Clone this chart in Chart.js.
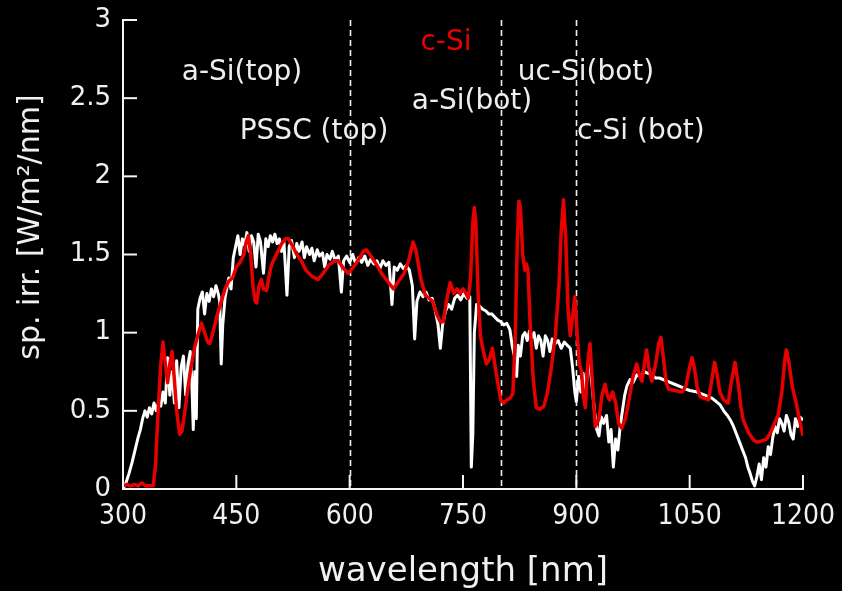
<!DOCTYPE html>
<html>
<head>
<meta charset="utf-8">
<script src="https://cdn.jsdelivr.net/npm/chart.js@4.4.1/dist/chart.umd.min.js"></script>
<style>
  html, body { margin: 0; padding: 0; background: #000; }
  #wrap { width: 842px; height: 591px; position: relative; }
</style>
</head>
<body>
<div id="wrap"><canvas id="c" width="842" height="591"></canvas></div>
<script>
// ---- data ----
const whiteNm = [300,304,308,312,316,320,323,326,329,332,335,338,341,344,347,350,353,356,359,362,365,368,371,374,377,380,383,386,389,391,393,395,397,399,402,405,408,411,414,417,420,423,426,428,430,432,435,438,440,443,446,449,452,455,458,461,464,467,470,473,476,479,482,486,489,492,495,498,501,504,507,510,513,517,520,523,527,530,533,537,540,543,547,550,553,557,560,564,567,570,574,577,581,585,589,592,596,600,604,608,612,616,620,624,628,632,636,640,644,648,652,656,659,663,667,671,675,679,683,686,689,693,697,701,705,709,713,717,720,723,727,731,735,739,743,747,751,755,759,761,763,765,768,772,776,780,784,788,792,796,800,804,808,812,815,818,821,823,826,829,832,835,838,841,844,847,850,853,856,859,862,865,868,872,876,880,884,888,892,895,898,900,903,906,909,912,915,918,921,924,927,930,933,936,940,943,946,949,952,955,958,961,964,967,971,975,980,985,990,995,1000,1005,1010,1020,1030,1040,1050,1060,1070,1080,1090,1095,1100,1104,1108,1112,1116,1120,1124,1127,1130,1133,1136,1139,1142,1145,1148,1151,1154,1157,1160,1163,1166,1169,1172,1175,1178,1181,1184,1187,1190,1193,1196,1200];
const whiteVal = [0.00,0.04,0.10,0.17,0.25,0.33,0.38,0.45,0.50,0.46,0.52,0.48,0.55,0.50,0.55,0.53,0.62,0.55,0.84,0.60,0.75,0.55,0.82,0.52,0.78,0.85,0.60,0.80,0.88,0.70,0.38,0.75,0.45,1.15,1.22,1.26,1.12,1.25,1.20,1.28,1.23,1.30,1.25,1.20,0.80,1.05,1.22,1.30,1.35,1.28,1.48,1.55,1.62,1.50,1.60,1.56,1.64,1.52,1.62,1.58,1.42,1.63,1.58,1.38,1.60,1.55,1.62,1.58,1.63,1.57,1.60,1.52,1.58,1.24,1.55,1.59,1.48,1.57,1.52,1.58,1.48,1.55,1.50,1.54,1.46,1.53,1.49,1.51,1.42,1.50,1.47,1.52,1.46,1.49,1.26,1.46,1.49,1.45,1.50,1.44,1.48,1.45,1.49,1.43,1.47,1.44,1.46,1.41,1.46,1.43,1.45,1.18,1.42,1.40,1.44,1.41,1.43,1.40,1.30,0.96,1.20,1.26,1.23,1.26,1.21,1.22,1.15,1.05,0.90,1.05,1.14,1.18,1.15,1.22,1.24,1.21,1.25,1.22,1.23,0.14,0.35,1.00,1.18,1.17,1.15,1.14,1.12,1.12,1.10,1.08,1.07,1.05,1.06,1.02,0.92,0.85,0.72,0.92,0.85,0.98,1.00,0.95,1.01,0.97,1.00,0.90,0.98,0.95,0.85,0.98,0.95,0.88,0.96,0.93,0.95,0.90,0.94,0.92,0.90,0.78,0.62,0.56,0.72,0.62,0.74,0.60,0.77,0.80,0.65,0.50,0.38,0.34,0.46,0.42,0.47,0.30,0.38,0.14,0.32,0.25,0.40,0.50,0.60,0.66,0.70,0.68,0.73,0.72,0.75,0.74,0.73,0.71,0.71,0.69,0.67,0.65,0.63,0.62,0.60,0.58,0.54,0.50,0.47,0.44,0.40,0.35,0.30,0.25,0.20,0.14,0.10,0.05,0.02,0.08,0.16,0.06,0.20,0.14,0.27,0.22,0.33,0.40,0.36,0.45,0.42,0.37,0.47,0.43,0.35,0.32,0.45,0.40,0.46,0.44];

const redNm = [300,305,310,315,320,325,330,335,340,343,346,350,353,356,359,362,365,368,371,375,378,382,386,390,395,400,404,408,412,415,420,425,430,435,440,445,450,455,460,463,466,469,472,475,477,480,483,486,490,494,497,500,505,510,515,519,525,530,536,542,550,558,565,572,580,585,592,598,605,612,618,622,628,635,642,650,658,665,672,678,684,688,694,700,705,710,715,720,724,728,733,738,742,746,750,754,757,760,763,765,767,770,773,777,781,785,789,792,796,800,804,808,812,816,819,822,824,826,829,832,834,836,839,843,847,852,857,862,867,872,877,880,883,886,889,892,895,898,901,904,907,909,912,915,918,921,925,930,934,938,941,944,948,952,956,960,965,970,975,980,984,987,990,993,996,1000,1005,1009,1012,1015,1019,1022,1030,1040,1045,1050,1053,1056,1060,1064,1070,1075,1080,1083,1086,1090,1095,1101,1105,1110,1114,1118,1121,1128,1135,1140,1146,1152,1158,1163,1167,1172,1176,1178,1181,1186,1191,1195,1200];
const redVal = [0.02,0.03,0.02,0.03,0.02,0.04,0.02,0.02,0.02,0.15,0.45,0.80,0.94,0.80,0.68,0.80,0.88,0.70,0.50,0.35,0.37,0.50,0.65,0.78,0.91,1.00,1.06,1.00,0.94,0.93,1.02,1.12,1.20,1.28,1.33,1.35,1.42,1.45,1.50,1.58,1.62,1.50,1.30,1.20,1.19,1.30,1.34,1.28,1.27,1.38,1.44,1.47,1.52,1.57,1.60,1.60,1.55,1.50,1.46,1.40,1.36,1.34,1.38,1.43,1.46,1.46,1.41,1.38,1.42,1.47,1.52,1.53,1.49,1.44,1.38,1.33,1.28,1.33,1.38,1.46,1.58,1.52,1.35,1.24,1.22,1.20,1.12,1.07,1.07,1.20,1.32,1.25,1.28,1.25,1.28,1.25,1.22,1.35,1.70,1.80,1.70,1.25,0.98,0.88,0.80,0.83,0.90,0.80,0.68,0.57,0.55,0.57,0.58,0.61,0.95,1.60,1.84,1.80,1.50,1.40,1.44,1.40,1.04,0.70,0.52,0.51,0.53,0.62,0.78,0.97,1.30,1.65,1.85,1.60,1.15,0.98,1.10,1.23,1.00,0.80,0.75,0.60,0.52,0.80,0.93,0.70,0.40,0.45,0.60,0.67,0.60,0.57,0.62,0.55,0.42,0.39,0.45,0.58,0.72,0.80,0.72,0.69,0.80,0.89,0.78,0.69,0.80,0.93,0.97,0.85,0.68,0.64,0.63,0.62,0.66,0.78,0.84,0.78,0.65,0.59,0.58,0.57,0.72,0.81,0.74,0.62,0.57,0.55,0.68,0.81,0.68,0.52,0.44,0.36,0.31,0.30,0.31,0.32,0.37,0.43,0.47,0.62,0.83,0.89,0.82,0.65,0.55,0.45,0.34];

const xTicks = [300, 450, 600, 750, 900, 1050, 1200];
const yTicks = [0, 0.5, 1, 1.5, 2, 2.5, 3];
const dividerNm = [600, 800, 900];
const xTitle = 'wavelength [nm]';
const yTitle = 'sp. irr. [W/m²/nm]';
const labelTexts = ['a-Si(top)', 'PSSC (top)', 'c-Si', 'a-Si(bot)', 'uc-Si(bot)', 'c-Si (bot)'];
const labelNm    = [457.5, 552.8, 727.5, 761.9, 912.8, 985.5];
const labelY     = [2.661, 2.284, 2.853, 2.475, 2.661, 2.284];
const labelColor = ['#eeeeee', '#eeeeee', '#e60000', '#eeeeee', '#eeeeee', '#eeeeee'];

// ---- chart ----
const FONT = "'DejaVu Sans', sans-serif";
const FONT_C = "'DejaVu Sans Condensed', 'DejaVu Sans', sans-serif";
const toPts = (xs, ys) => xs.map((x, i) => ({ x: x, y: ys[i] }));

const decor = {
  id: 'decor',
  beforeDraw(chart) {
    const ctx = chart.ctx;
    ctx.save();
    ctx.fillStyle = '#000';
    ctx.fillRect(0, 0, chart.width, chart.height);
    ctx.restore();
  },
  beforeDatasetsDraw(chart) {
    const { ctx, chartArea, scales } = chart;
    ctx.save();
    ctx.strokeStyle = '#f0f0f0';
    ctx.lineWidth = 1.6;
    ctx.setLineDash([6, 4]);
    dividerNm.forEach(v => {
      const px = Math.round(scales.x.getPixelForValue(v)) + 0.5;
      ctx.beginPath();
      ctx.moveTo(px, chartArea.top);
      ctx.lineTo(px, chartArea.bottom);
      ctx.stroke();
    });
    ctx.restore();
  },
  afterDraw(chart) {
    const { ctx, chartArea, scales } = chart;
    ctx.save();
    ctx.strokeStyle = '#f5f5f5';
    ctx.lineWidth = 2;
    ctx.setLineDash([]);
    const L = 14;
    yTicks.forEach(v => {
      const py = scales.y.getPixelForValue(v);
      ctx.beginPath();
      ctx.moveTo(chartArea.left, py);
      ctx.lineTo(chartArea.left + L, py);
      ctx.stroke();
    });
    xTicks.forEach(v => {
      const px = scales.x.getPixelForValue(v);
      ctx.beginPath();
      ctx.moveTo(px, chartArea.bottom);
      ctx.lineTo(px, chartArea.bottom - L);
      ctx.stroke();
    });
    ctx.font = '28px ' + FONT;
    ctx.textAlign = 'center';
    ctx.textBaseline = 'middle';
    labelTexts.forEach((t, i) => {
      ctx.fillStyle = labelColor[i];
      ctx.fillText(t, scales.x.getPixelForValue(labelNm[i]), scales.y.getPixelForValue(labelY[i]));
    });
    // axis titles
    ctx.fillStyle = '#f0f0f0';
    ctx.font = '34px ' + FONT;
    ctx.fillText(xTitle, (chartArea.left + chartArea.right) / 2, 572);
    ctx.save();
    ctx.translate(31, 227);
    ctx.rotate(-Math.PI / 2);
    ctx.font = '30px ' + FONT;
    ctx.fillText(yTitle, 0, 0);
    ctx.restore();
    ctx.restore();
  }
};

new Chart(document.getElementById('c'), {
  type: 'line',
  data: {
    datasets: [
      {
        label: 'c-Si',
        data: toPts(redNm, redVal),
        borderColor: '#e60000',
        borderWidth: 3.5,
        pointRadius: 0,
        tension: 0,
        borderJoinStyle: 'round',
        order: 0
      },
      {
        label: 'AM1.5',
        data: toPts(whiteNm, whiteVal),
        borderColor: '#ffffff',
        borderWidth: 3,
        pointRadius: 0,
        tension: 0,
        borderJoinStyle: 'round',
        order: 1
      }
    ]
  },
  options: {
    responsive: false,
    animation: false,
    layout: { padding: { left: 0, right: 39, top: 20, bottom: 0 } },
    plugins: { legend: { display: false }, tooltip: { enabled: false } },
    scales: {
      x: {
        type: 'linear',
        min: 300, max: 1200,
        afterBuildTicks: s => { s.ticks = xTicks.map(v => ({ value: v })); },
        afterFit: s => { s.height = 102; s.paddingLeft = 0; s.paddingRight = 0; },
        grid: { drawOnChartArea: false, drawTicks: false },
        border: { display: true, color: '#f5f5f5', width: 2 },
        ticks: {
          color: '#f0f0f0', padding: 11, maxRotation: 0, autoSkip: false,
          font: { family: FONT_C, size: 28 },
          callback: v => String(v)
        },
        title: { display: false }
      },
      y: {
        min: 0, max: 3,
        afterBuildTicks: s => { s.ticks = yTicks.map(v => ({ value: v })); },
        afterFit: s => { s.width = 123; s.paddingTop = 0; s.paddingBottom = 0; },
        grid: { drawOnChartArea: false, drawTicks: false },
        border: { display: true, color: '#f5f5f5', width: 2 },
        ticks: {
          color: '#f0f0f0', padding: 12,
          font: { family: FONT, size: 26 },
          callback: v => String(v)
        },
        title: { display: false }
      }
    }
  },
  plugins: [decor]
});
</script>
</body>
</html>
